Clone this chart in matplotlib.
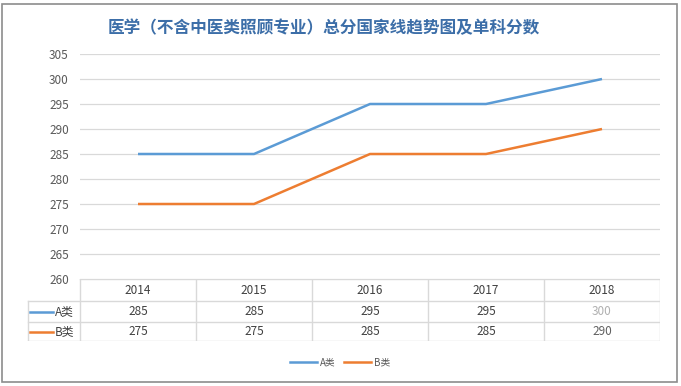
import matplotlib
matplotlib.use("Agg")
import matplotlib.pyplot as plt
from matplotlib.patches import Rectangle
from matplotlib.lines import Line2D

plt.rcParams['font.family'] = ['Noto Sans CJK SC', 'DejaVu Sans']

# Datos
years = ["2014", "2015", "2016", "2017", "2018"]
series_names = ["A类", "B类"]
a_scores = [285, 285, 295, 295, 300]
b_scores = [275, 275, 285, 285, 290]
colors = ["#5B9BD5", "#ED7D31"]
title = "医学（不含中医类照顾专业）总分国家线趋势图及单科分数"

W, H = 681, 386
fig = plt.figure(figsize=(W / 100, H / 100), dpi=100)

# Borde de la figura
fig.patches.append(Rectangle((2 / W, 4 / H), 675 / W, 378 / H, transform=fig.transFigure,
                             fill=False, edgecolor="#8c8c8c", linewidth=1.2))

fig.text(324 / W, 1 - 28 / H, title, ha="center", va="center", fontsize=12,
         color="#3C6EA8", fontweight="bold")

# Grafico de lineas
ax = fig.add_axes([80 / W, 1 - 279 / H, 580 / W, 225 / H])
x = range(len(years))
for vals, c in zip([a_scores, b_scores], colors):
    ax.plot(x, vals, color=c, linewidth=1.8, solid_capstyle="butt")
ax.set_xlim(-0.5, len(years) - 0.5)
ax.set_ylim(260, 305)
ax.set_yticks(range(260, 306, 5))
ax.set_xticks([])
ax.grid(axis="y", color="#d9d9d9", linewidth=0.9)
ax.set_axisbelow(True)
for s in ax.spines.values():
    s.set_visible(False)
ax.tick_params(axis="y", length=0, pad=8, labelsize=8.5, labelcolor="#595959")

# Tabla de datos
tx0, tx1 = 27, 660
ty0, ty1 = 279, 341
tab = fig.add_axes([tx0 / W, 1 - ty1 / H, (tx1 - tx0) / W, (ty1 - ty0) / H])
tab.set_xlim(tx0, tx1)
tab.set_ylim(ty1, ty0)
tab.axis("off")
lc = "#d9d9d9"
rows_y = [279, 301, 322, 341]
col_x = [80 + 116 * i for i in range(6)]
tab.plot([80, 660], [279, 279], color=lc, lw=1)
for yy in rows_y[1:]:
    tab.plot([27.5, 660], [yy, yy], color=lc, lw=1)
for xx in col_x:
    tab.plot([xx, xx], [279, 341], color=lc, lw=1)
tab.plot([27.5, 27.5], [301, 341], color=lc, lw=1)

for i, yr in enumerate(years):
    cx = col_x[i] + 58
    tab.text(cx, 290, yr, ha="center", va="center", fontsize=8.5, color="#404040")
    tab.text(cx, 311.5, str(a_scores[i]), ha="center", va="center", fontsize=8.5,
             color="#b0b0b0" if i == 4 else "#404040")
    tab.text(cx, 331.5, str(b_scores[i]), ha="center", va="center", fontsize=8.5,
             color="#606060" if i == 4 else "#404040")

for name, c, yy in zip(series_names, colors, [311.5, 331.5]):
    tab.plot([30, 53], [yy, yy], color=c, lw=1.8)
    tab.text(55, yy, name, ha="left", va="center", fontsize=8.5, color="#404040")

# Leyenda
handles = [Line2D([], [], color=c, lw=1.8) for c in colors]
fig.legend(handles, series_names, loc="center", bbox_to_anchor=(340 / W, 1 - 362 / H),
           ncol=2, frameon=False, fontsize=7, labelcolor="#595959",
           handlelength=2.8, handletextpad=0.3, columnspacing=0.8)

fig.savefig("out.png", dpi=100)
